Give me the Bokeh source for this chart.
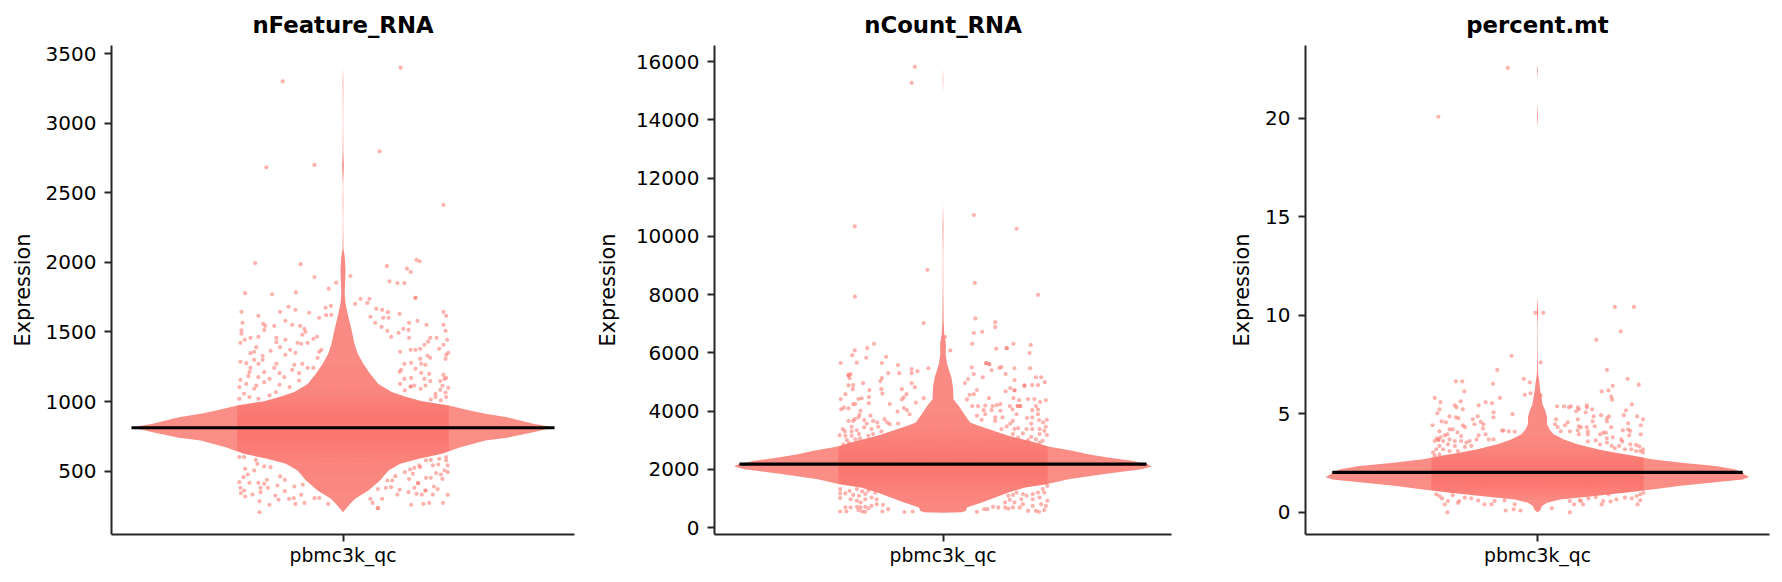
import numpy as np
from bokeh.embed import file_html
from bokeh.resources import INLINE
from bokeh.plotting import figure
from bokeh.layouts import row
from bokeh.models import FixedTicker, Range1d, BasicTickFormatter

group_label = "pbmc3k_qc"
axis_label = "Expression"

# --- nFeature_RNA -----------------------------------------------------
feature_violin = [(205,0),(265,.033),(301,.057),(361,.12),(433,.175),(505,.215),(553,.27),(589,.357),(625,.468),(672,.555),(720,.673),(740,.776),(780,.9),(797,.95),(811,1.0),(828,.95),(840,.9),(888,.776),(912,.673),(936,.60),(972,.5),(1003,.373),(1032,.30),(1068,.23),(1127,.167),(1199,.128),(1271,.096),(1343,.07),(1415,.054),(1511,.041),(1630,.022),(1702,.012),(1774,.008),(1942,.012),(2040,.008),(2100,.002),(2300,.0006),(2420,.0015),(2550,.0006),(2700,.004),(2800,.0015),(3000,.0006),(3300,.0015),(3400,0)]
feature_median = (812, 1.0)
feature_ticks = [500,1000,1500,2000,2500,3000,3500]
feature_range = (45, 3558)
feature_points = [(-.114,3300),(.109,3399),(-.145,2683),(-.054,2700),(.069,2798),(.19,2412),(-.166,1995),(-.08,1987),(-.054,1894),(.083,1973),(.139,2018),(.145,2008),(.121,1955),(.128,1931),(.014,1902),(.088,1864),(.103,1851),(.116,1851),(-.013,1854),(-.027,1811),(.137,1745),(.137,1745),(-.185,1779),(-.134,1771),(-.089,1784),
(-.192,1645),(-.16,1616),(-.119,1645),(-.09,1659),(-.103,1681),(-.064,1638),(-.045,1602),(-.033,1674),(-.023,1688),(-.032,1621),(-.022,1623),(.023,1702),(.033,1738),(.046,1709),(.05,1738),(.063,1666),(.074,1659),(.085,1642),(.052,1609),(.061,1566),(.076,1602),(.086,1602),(.073,1537),(.084,1508),(.091,1465),(-.19,1566),(-.192,1511),(-.192,1487),(-.151,1559),(-.147,1544),(-.149,1515),(-.13,1544),(-.109,1580),(-.096,1551),(-.081,1544),(-.073,1523),(-.071,1501),(-.077,1480),(-.16,1465),(-.175,1458),(-.186,1444),(-.194,1422),(-.126,1458),(-.126,1427),(-.109,1444),(-.086,1422),(-.079,1415),(-.067,1422),(-.056,1451),(-.049,1465),(-.164,1391),(-.168,1357),(-.175,1348),(-.119,1391),(-.137,1365),(-.1,1372),(-.109,1336),(-.09,1350),(-.041,1372),(-.045,1357),(-.152,1329),(-.168,1300),(-.152,1300),(-.194,1286),(-.183,1276),(-.175,1242),(-.16,1271),(-.126,1271),(-.13,1242),(-.092,1264),(-.077,1271),(-.067,1242),(-.056,1242),(-.048,1314),(-.177,1211),(-.149,1211),(-.12,1204),(-.111,1175),(-.096,1228),(-.083,1204),(-.194,1156),(-.179,1183),(-.16,1175),(-.139,1163),(-.196,1104),(-.183,1127),(-.164,1115),(-.149,1139),(-.12,1120),(-.101,1104),(-.083,1151),(-.187,1056),(-.168,1092),(-.196,1020),(-.177,1032),(-.16,1020),(-.139,1044),(-.127,1068),
(-.196,601),(-.187,601),(-.165,581),(-.162,553),(-.149,534),(-.137,529),(-.185,517),(-.168,505),(-.18,476),(-.188,457),(-.196,421),(-.177,416),(-.16,416),(-.144,438),(-.149,409),(-.119,462),(-.11,438),(-.124,397),(-.194,380),(-.187,361),(-.156,380),(-.142,380),(-.156,349),(-.193,342),(-.185,318),(-.171,332),(-.128,325),(-.11,356),(-.092,390),(-.076,404),(-.158,284),(-.139,258),(-.158,205),(-.122,296),(-.102,301),(-.093,306),(-.09,265),(-.073,272),(-.079,330),(-.054,306),(-.045,308),(-.028,265),
(.107,1630),(.125,1566),(.141,1580),(.158,1551),(.19,1645),(.195,1616),(.19,1551),(.194,1508),(.124,1515),(.114,1523),(.105,1494),(.125,1458),(.165,1458),(.177,1458),(.197,1444),(.161,1430),(.154,1408),(.19,1408),(.182,1379),(.128,1372),(.137,1372),(.146,1379),(.108,1357),(.16,1329),(.165,1314),(.199,1350),(.195,1336),(.194,1307),(.146,1307),(.129,1278),(.116,1271),(.156,1264),(.148,1271),(.137,1235),(.11,1228),(.107,1214),(.148,1206),(.163,1199),(.19,1192),(.195,1170),(.192,1163),(.116,1163),(.129,1170),(.154,1163),(.165,1147),(.128,1108),(.128,1108),(.108,1127),(.147,1092),(.135,1115),(.184,1147),(.188,1113),(.199,1099),(.184,1084),(.194,1065),(.175,1056),(.117,1080),(.156,1115),(.195,1032),(.175,1032),(.185,1008),(.166,1015),
(.195,601),(.195,577),(.182,589),(.166,581),(.198,541),(.192,505),(.198,493),(.18,548),(.17,541),(.157,577),(.144,541),(.135,524),(.127,512),(.117,493),(.132,481),(.146,529),(.176,486),(.185,476),(.188,445),(.166,452),(.157,452),(.142,414),(.142,414),(.125,443),(.099,464),(.093,433),(.084,433),(.172,390),(.179,371),(.156,361),(.156,361),(.135,380),(.124,349),(.139,337),(.149,332),(.103,332),(.107,366),(.091,385),(.081,380),(.066,371),(.198,330),(.189,272),(.17,332),(.163,272),(.152,265),(.129,258),(.074,301),(.052,301),(.056,272),(.066,234),(.066,234)]

# --- nCount_RNA -------------------------------------------------------
count_violin = [(505,0),(520,.09),(573,.11),(687,.114),(859,.186),(1030,.25),(1202,.313),(1374,.393),(1488,.496),(1660,.6),(1832,.766),(2004,.95),(2095,1),(2175,.98),(2290,.905),(2405,.79),(2520,.695),(2633,.62),(2782,.504),(2954,.424),(3149,.313),(3320,.242),(3492,.17),(3607,.13),(3836,.107),(4179,.075),(4408,.05),(4809,.048),(5152,.04),(5610,.02),(5954,.013),(6297,.014),(6640,.006),(7100,.003),(8000,.0015),(9200,.0008),(10300,.002),(11000,.0003),(11500,0),(14800,0),(15400,.001),(15800,0)]
count_median = (2175, .975)
count_ticks = [0,2000,4000,6000,8000,10000,12000,14000,16000]
count_range = (-240, 16553)
count_points = [(-.054,15820),(-.06,15270),(-.169,10340),(.059,10730),(.141,10260),(-.03,8850),(.061,8400),(-.169,7930),(.182,7990),(-.037,7020),(.062,7180),(.1,7050),(.1,6880),(.059,6680),(.075,6720),(.004,6540),(.056,6310),(.168,6270),(.135,6310),(-.132,6310),(-.145,6160),(.102,6140),(.122,6160),(.122,6160),(-.169,6080),(.014,6080),(.166,5990),(-.174,5920),(-.147,5830),(-.109,5860),(-.165,5660),(-.196,5650),(-.117,5650),(-.086,5580),(.083,5650),(.089,5610),
(-.06,5440),(-.049,5370),(-.028,5470),(-.06,5300),(-.084,5300),(-.105,5300),(-.181,5230),(-.181,5230),(-.177,5270),(-.179,5130),(-.12,5030),(-.117,5130),(-.153,4960),(-.181,4880),(-.172,4890),(-.173,4750),(-.06,4960),(-.054,4820),(-.079,4750),(-.118,4750),(-.116,4600),(-.141,4720),(-.187,4580),(-.142,4480),(-.07,4580),(-.075,4470),(-.079,4400),(-.196,4410),(-.156,4440),(-.162,4410),(-.142,4270),(-.168,4240),(-.172,4240),(-.052,4290),(-.037,4440),(-.102,4240),(-.19,4120),(-.195,4060),(-.181,4090),(-.075,4100),(-.087,3980),(-.069,4030),(-.064,3890),(-.158,4010),(-.16,3870),(-.169,3720),(-.172,3660),(-.162,3780),(-.139,3840),(-.151,3690),(-.134,3660),(-.126,3610),(-.146,3570),(-.112,3720),(-.107,3610),(-.102,3550),(-.086,3570),(-.181,3660),(-.192,3380),(-.188,3300),(-.175,3460),(-.175,3300),(-.165,3340),(-.151,3440),(-.137,3380),(-.124,3460),(-.118,3300),(-.198,3170),(-.187,3150),(-.175,3150),(-.161,3210),(-.143,3150),(-.134,3210),(-.184,3000),(-.168,3030),(-.159,3060),(-.191,2860),(-.18,2900),
(-.197,1320),(-.187,1170),(-.197,1170),(-.179,1260),(-.165,1320),(-.155,1240),(-.143,1260),(-.13,1200),(-.172,1120),(-.161,1090),(-.149,1150),(-.137,1030),(-.197,1010),(-.177,970),(-.165,920),(-.149,970),(-.127,970),(-.158,860),(-.137,740),(-.127,800),(-.187,690),(-.177,690),(-.165,710),(-.158,690),(-.149,710),(-.155,550),(-.143,660),(-.197,550),(-.185,550),(-.162,600),(-.149,540),(-.116,550),(-.105,630),(-.115,780),(-.074,530),(-.058,550),
(.055,5500),(.082,5640),(.088,5610),(.093,5400),(.108,5480),(.112,5510),(.137,5470),(.167,5470),(.059,5270),(.12,5270),(.076,5160),(.137,5060),(.048,5100),(.042,4960),(.178,5160),(.188,5160),(.195,4990),(.171,4890),(.182,4890),(.156,4870),(.156,4870),(.129,4790),(.137,4710),(.137,4710),(.12,4680),(.065,4720),(.059,4580),(.051,4560),(.046,4400),(.088,4440),(.135,4440),(.146,4370),(.163,4410),(.175,4410),(.186,4310),(.197,4370),(.056,4170),(.067,4170),(.081,4190),(.095,4170),(.103,4200),(.11,4240),(.128,4170),(.143,4170),(.143,4170),(.148,4170),(.148,4170),(.178,4170),(.11,4010),(.093,4030),(.078,4030),(.133,4060),(.171,4030),(.182,4050),(.065,3840),(.081,3890),(.1,3780),(.114,3780),(.141,3890),(.161,3760),(.171,3780),(.182,3890),(.074,3700),(.1,3660),(.134,3660),(.129,3570),(.184,3690),(.199,3700),(.192,3610),(.169,3570),(.112,3380),(.122,3470),(.137,3380),(.144,3410),(.16,3380),(.171,3380),(.185,3380),(.197,3460),(.194,3320),(.134,3210),(.153,3230),(.169,3110),(.185,3210),(.199,3180),(.178,3030),(.163,3000),(.144,3090),(.191,2980),(.185,2920),
(.2,1430),(.191,1320),(.182,1200),(.194,1200),(.153,1150),(.16,1090),(.141,1200),(.134,1120),(.125,1090),(.172,1150),(.185,1030),(.2,920),(.15,970),(.172,970),(.128,950),(.119,860),(.137,860),(.153,800),(.188,800),(.172,740),(.197,740),(.119,690),(.147,690),(.134,690),(.125,650),(.194,600),(.178,570),(.184,540),(.163,570),(.106,690),(.096,710),(.085,630),(.079,630),(.065,540)]

# --- percent.mt -------------------------------------------------------
mt_violin = [(-.02,0),(.136,.015),(.305,.021),(.475,.045),(.644,.108),(.814,.268),(.983,.41),(1.15,.54),(1.32,.666),(1.49,.817),(1.66,.968),(1.78,1),(1.92,.975),(2.0,.97),(2.17,.93),(2.34,.84),(2.51,.68),(2.68,.54),(2.85,.459),(3.02,.363),(3.19,.283),(3.44,.188),(3.69,.124),(3.95,.076),(4.2,.057),(4.46,.045),(4.8,.045),(5.14,.037),(5.47,.024),(5.9,.018),(6.15,.013),(6.66,.008),(7.0,.003),(7.68,.0016),(8.5,.001),(9.5,.0008),(10.2,.003),(10.8,.0005),(11.2,0),(19.5,0),(20.1,.002),(20.8,0),(22,0),(22.5,.002),(22.7,0)]
mt_median = (2.02, .968)
mt_ticks = [0,5,10,15,20]
mt_range = (-1.14, 23.7)
mt_points = [(-.056,22.56),(-.187,20.08),(.146,10.42),(.182,10.42),(.011,10.12),(-.004,10.12),(.157,9.18),(.111,8.75),(-.049,7.94),(.006,7.6),(.131,7.22),(-.076,7.22),(.17,6.77),(-.026,6.77),(-.154,6.64),(-.142,6.64),(-.084,6.52),(.191,6.47),(.142,6.41),(.134,6.18),(.121,6.13),(-.138,6.13),(-.024,5.96),(.006,5.92),(.139,5.86),(.141,5.71),(-.071,5.8),(-.194,5.8),(-.0145,6.59),(-.013,6.03),
(-.183,5.58),(-.145,5.63),(-.156,5.42),(-.153,5.32),(-.141,5.22),(-.185,5.22),(-.111,5.42),(-.098,5.58),(-.086,5.53),(-.083,5.07),(-.083,4.81),(-.047,4.97),(-.189,5.02),(-.166,4.86),(-.154,4.81),(-.149,4.76),(-.113,4.86),(-.122,4.71),(-.107,4.58),(-.119,4.46),(-.102,4.46),(-.103,4.25),(-.181,4.61),(-.173,4.56),(-.198,4.41),(-.141,4.41),(-.137,4.31),(-.185,4.1),(-.166,4.2),(-.16,4.2),(-.151,4.05),(-.17,3.95),(-.175,3.9),(-.19,3.75),(-.183,3.8),(-.144,3.86),(-.111,3.9),(-.098,3.95),(-.067,4.14),(-.064,4.14),(-.054,4.1),(-.043,4.08),(-.083,3.69),(-.092,3.69),(-.128,3.61),(-.115,3.69),(-.134,3.53),(-.194,3.61),(-.187,3.66),(-.187,3.66),(-.178,3.61),(-.166,3.69),(-.156,3.61),(-.144,3.61),(-.169,3.44),(-.185,3.36),(-.156,3.36),(-.137,3.31),(-.197,3.02),(-.191,3.19),(-.178,3.19),(-.166,3.1),(-.15,3.1),(-.125,3.36),(-.194,2.85),(-.185,2.93),
(-.191,.9),(-.185,.81),(-.18,.69),(-.169,.56),(-.175,.39),(-.17,-.02),(-.15,.47),(-.148,.56),(-.16,.86),(-.137,.73),(-.125,.69),(-.112,.59),(-.1,.39),(-.087,.39),(-.081,.56),(-.06,.08),(-.045,.14),(-.032,.08),(-.062,.59),(-.043,.39),
(.027,.19),(.061,-.02),(.061,.56),(.069,.39),(.08,.59),(.086,.39),(.082,.56),(.121,.39),(.124,.56),(.138,.54),(.149,.64),(.165,.73),(.178,.69),(.189,.39),(.194,.59),(.187,.81),(.2,.98),(.194,.9),(.096,.69),(.11,.76),(.134,.9),
(.178,5.47),(.037,5.37),(.05,5.37),(.059,5.32),(.063,5.37),(.076,5.32),(.078,5.22),(.073,5.12),(.093,5.42),(.093,5.32),(.091,5.07),(.103,5.22),(.167,5.17),(.12,4.92),(.106,4.86),(.135,4.86),(.131,4.76),(.163,4.92),(.188,4.86),(.199,4.71),(.104,4.61),(.131,4.61),(.076,4.71),(.035,4.71),(.033,4.46),(.057,4.56),(.052,4.41),(.038,4.31),(.139,4.31),(.171,4.51),(.195,4.41),(.078,4.36),(.082,4.31),(.093,4.31),(.108,4.36),(.044,4.1),(.061,4.1),(.076,4.15),(.095,4.1),(.078,3.95),(.095,3.95),(.118,3.95),(.124,4.03),(.129,4.03),(.161,4.15),(.171,4.2),(.175,4.12),(.195,3.95),(.142,3.8),(.131,3.75),(.173,3.9),(.158,3.69),(.11,3.64),(.095,3.59),(.118,3.44),(.131,3.53),(.16,3.58),(.175,3.44),(.186,3.41),(.192,3.34),(.199,3.19),(.194,3.1),(.146,3.24),(.154,3.36),(.165,3.19),(.186,3.1),(.14,3.36),(.177,3.19),(.199,3.02)]

panels = [
    ("nFeature_RNA", feature_violin, feature_median, feature_ticks, feature_range, feature_points, 592, 111, 18, 8),
    ("nCount_RNA", count_violin, count_median, count_ticks, count_range, count_points, 598, 116, 19, 13),
    ("percent.mt", mt_violin, mt_median, mt_ticks, mt_range, mt_points, 592, 115, 13, 8),
]

VIOLIN_HALF = 0.4
STRIP_HALF = 0.2
XLIM = 0.4378
INK = "#262626"
# the strip of points darkens the violin the more, the wider it is at that height
STRIP_TIERS = [(0.0, .05), (0.1, .05), (0.2, .06), (0.3, .06), (0.4, .06), (0.5, .06), (0.6, .05), (0.7, .05), (0.85, .04)]

figs = []
for title, violin, median, ticks, yrange, points, w, left, right, standoff in panels:
    p = figure(width=w, height=582, output_backend="svg", toolbar_location=None,
               x_range=Range1d(-XLIM, XLIM), y_range=Range1d(*yrange),
               min_border_left=left, min_border_right=right, min_border_top=45, min_border_bottom=48,
               title=title)
    p.outline_line_color = None
    p.background_fill_color = "white"
    p.border_fill_color = "white"
    p.grid.visible = False
    p.title.align = "center"
    p.title.text_font = "DejaVu Sans"
    p.title.text_font_style = "bold"
    p.title.text_font_size = "22.8px"
    p.title.text_color = "black"
    p.title.standoff = 15

    vy = np.array([v[0] for v in violin], dtype=float)
    vr = np.array([v[1] for v in violin], dtype=float)
    p.harea(x1=(-vr * VIOLIN_HALF).tolist(), x2=(vr * VIOLIN_HALF).tolist(), y=vy.tolist(),
            fill_color="#fa8e87", fill_alpha=1)
    grid = np.linspace(vy[0], vy[-1], 1500)
    rel = np.interp(grid, vy, vr)
    for thr, alpha in STRIP_TIERS:
        strip = np.where(rel > thr, np.minimum(rel * VIOLIN_HALF, STRIP_HALF), 0.0)
        p.harea(x1=(-strip).tolist(), x2=strip.tolist(), y=grid.tolist(), fill_color="#fd5a50", fill_alpha=alpha)
    p.scatter([q[0] for q in points], [q[1] for q in points], size=4.2, marker="circle",
              fill_color="#fb7a72", fill_alpha=0.58, line_color=None)
    mx = median[1] * VIOLIN_HALF
    p.segment([-mx], [median[0]], [mx], [median[0]], line_color="black", line_width=3.2, line_cap="butt")

    for ax in (p.xaxis[0], p.yaxis[0]):
        ax.axis_line_color = INK
        ax.axis_line_width = 2
        ax.major_tick_line_color = INK
        ax.major_tick_line_width = 2
        ax.major_tick_in = 0
        ax.major_tick_out = 7
        ax.minor_tick_line_color = None
        ax.major_label_text_font = "DejaVu Sans"
        ax.major_label_text_color = "black"
    p.yaxis[0].ticker = FixedTicker(ticks=ticks)
    p.yaxis[0].formatter = BasicTickFormatter(use_scientific=False)
    p.yaxis[0].major_label_text_font_size = "20px"
    p.yaxis[0].major_label_standoff = 8
    p.yaxis[0].axis_label = axis_label
    p.yaxis[0].axis_label_text_font = "DejaVu Sans"
    p.yaxis[0].axis_label_text_font_style = "normal"
    p.yaxis[0].axis_label_text_font_size = "20.8px"
    p.yaxis[0].axis_label_text_color = "black"
    p.yaxis[0].axis_label_standoff = standoff
    p.xaxis[0].ticker = FixedTicker(ticks=[0])
    p.xaxis[0].major_label_overrides = {0: group_label}
    p.xaxis[0].major_label_text_font_size = "18.8px"
    p.xaxis[0].major_label_standoff = 3
    figs.append(p)

layout = row(*figs, spacing=0)
open("out.html", "w").write(file_html(layout, INLINE))
